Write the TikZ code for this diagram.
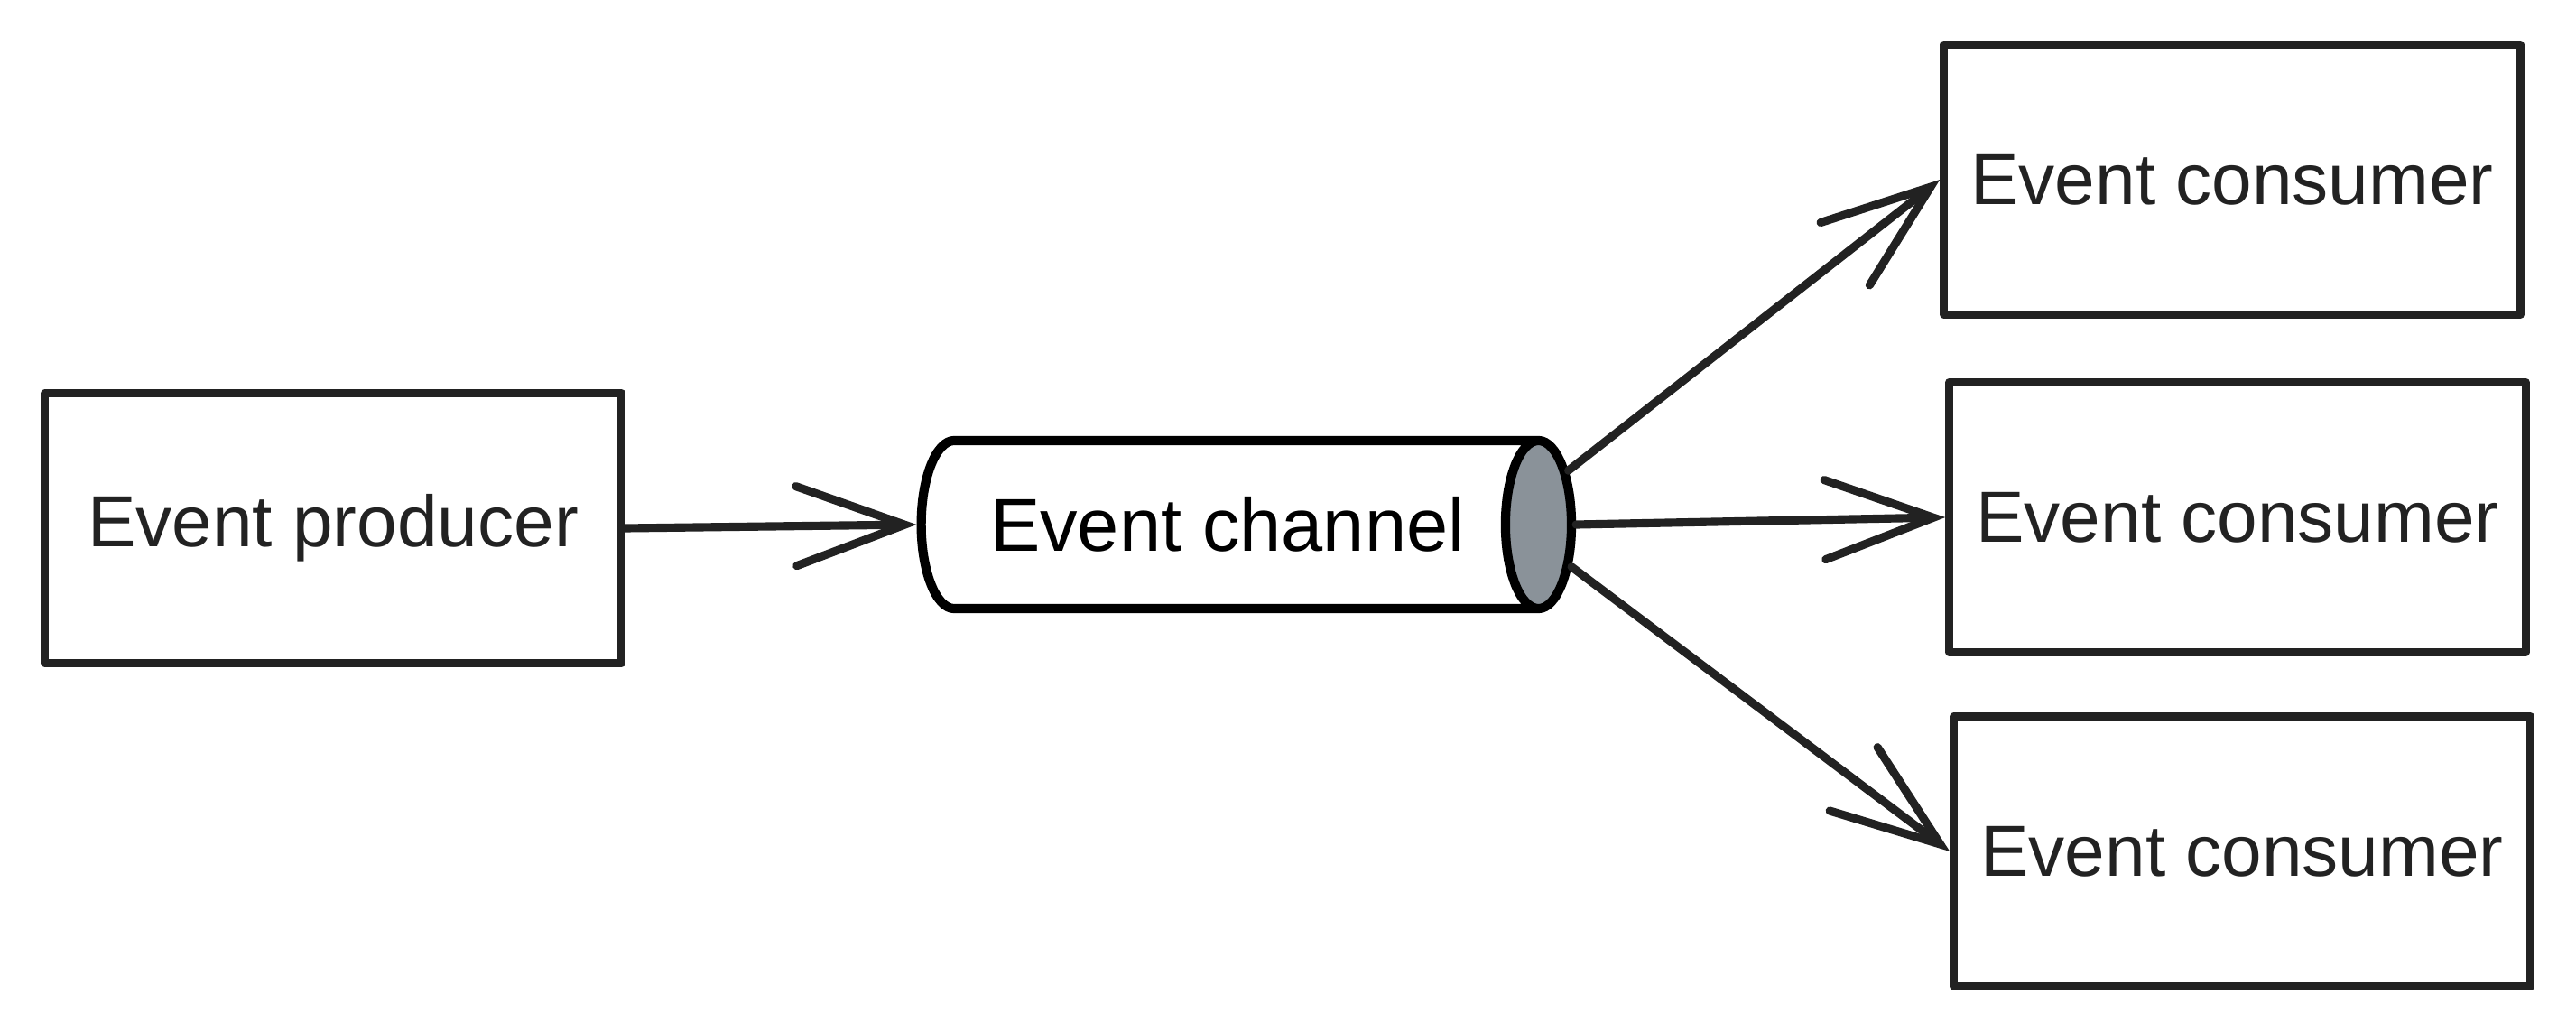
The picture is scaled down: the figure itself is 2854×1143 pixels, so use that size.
\documentclass[tikz,border=0pt]{standalone}
\usepackage{fontspec}
\setmainfont{Liberation Sans}
\usetikzlibrary{
    positioning,
    shapes.geometric,
    arrows.meta
}
\definecolor{TintaEscura}{HTML}{222222}
\definecolor{CinzaTampa}{HTML}{8A9299}

\begin{document}
\begin{tikzpicture}[
        x=0.01cm, y=-0.01cm,
        caixa/.style={
            draw=TintaEscura,
            line width=2.6pt,
            line join=round,
            minimum width=6.38cm,
            minimum height=2.99cm,
            inner sep=0pt,
            text=TintaEscura,
            font=\fontsize{22.8}{27}\selectfont
        },
        fluxo/.style={
            draw=TintaEscura,
            line width=2.6pt,
            line cap=round,
            -{Straight Barb[length=1.2cm, width=0.88cm, line cap=round]}
        }
    ]
    \useasboundingbox (0,0) rectangle (2854,1143);
    \node[caixa] (produtor) at (369,585) {Event producer};
    \node[
        cylinder,
        draw=black,
        line width=2.9pt,
        cylinder uses custom fill,
        cylinder body fill=white,
        cylinder end fill=CinzaTampa,
        aspect=1.2,
        minimum height=7.2cm,
        minimum width=1.86cm,
        inner sep=0pt,
        text=black,
        font=\fontsize{23.6}{27}\selectfont
    ] (canal) at (1360,581) {Event channel};
    \node[caixa] (consumidorA) at (2473,199) {Event consumer};
    \node[caixa] (consumidorB) at (2479,573) {Event consumer};
    \node[caixa] (consumidorC) at (2484,943) {Event consumer};
    \draw[fluxo] (produtor.east) -- (canal.west);
    \draw[fluxo] (canal.9) -- (consumidorA.west);
    \draw[fluxo] (canal.east) -- (consumidorB.west);
    \draw[fluxo] (canal.-7) -- (consumidorC.west);
\end{tikzpicture}
\end{document}
